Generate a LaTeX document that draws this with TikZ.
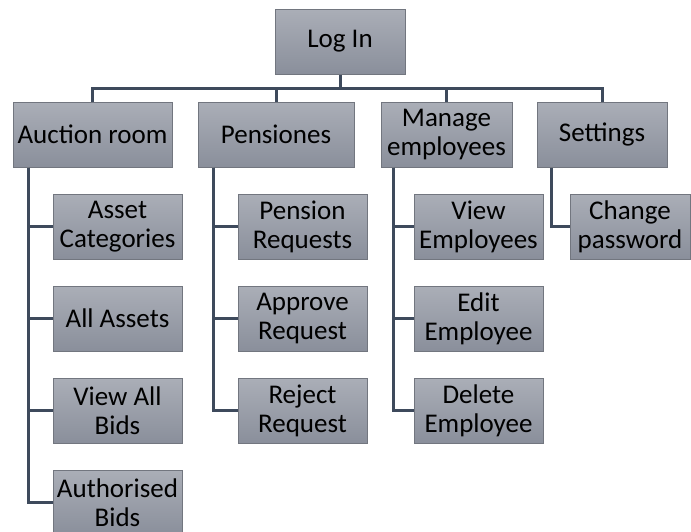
\documentclass[tikz,border=0pt]{standalone}
\usepackage{fontspec}
\setmainfont{Carlito}
\usepackage{xcolor}
\usepackage{tikz}
\usetikzlibrary{positioning}

\definecolor{boxtop}{HTML}{AAAEB7}
\definecolor{boxbot}{HTML}{8A8F9B}
\definecolor{boxline}{HTML}{72767F}
\definecolor{linkcol}{HTML}{3E4A5C}

\tikzset{
  menubox/.style={draw=boxline, line width=1pt, top color=boxtop, bottom color=boxbot,
    inner sep=0pt, align=center, minimum height=65pt,
    font=\fontsize{27}{29}\selectfont},
  link/.style={draw=linkcol, line width=3pt, line join=miter}
}

\begin{document}
\begin{tikzpicture}[x=1pt,y=-1pt]
\useasboundingbox (0,0) rectangle (691,531);

% Top level
\node[menubox, minimum width=130pt] (login) at (340,41.5) {Log In};

% Main menu
\node[menubox, minimum width=159pt] (auction) at (92.5,134.5) {Auction room};
\node[menubox, minimum width=156pt] (pension) at (276,134.5) {Pensiones};
\node[menubox, minimum width=131pt] (manage) at (446.5,134.5) {Manage\\employees};
\node[menubox, minimum width=130pt] (settings) at (602,134.5) {Settings};

% Auction room items
\node[menubox, minimum width=129pt] (assetcat) at (117.5,226.5) {Asset\\Categories};
\node[menubox, minimum width=129pt] (allassets) at (117.5,318.5) {All Assets};
\node[menubox, minimum width=129pt] (viewbids) at (117.5,410.5) {View All\\Bids};
\node[menubox, minimum width=129pt] (authbids) at (117.5,502.5) {Authorised\\Bids};

% Pensiones items
\node[menubox, minimum width=129pt] (penreq) at (302.5,226.5) {Pension\\Requests};
\node[menubox, minimum width=129pt] (approve) at (302.5,318.5) {Approve\\Request};
\node[menubox, minimum width=129pt] (reject) at (302.5,410.5) {Reject\\Request};

% Employee items
\node[menubox, minimum width=129pt] (viewemp) at (478.5,226.5) {View\\Employees};
\node[menubox, minimum width=129pt] (editemp) at (478.5,318.5) {Edit\\Employee};
\node[menubox, minimum width=129pt] (delemp) at (478.5,410.5) {Delete\\Employee};

% Settings item
\node[menubox, minimum width=120pt] (chpass) at (630,226.5) {Change\\password};

% Bus under Log In
\coordinate (bus) at (0,88);
\draw[link] (login.south) -- (login.south |- bus);
\draw[link] (auction.north) -- (auction.north |- bus) -| (settings.north);
\draw[link] (pension.north) -- (pension.north |- bus);
\draw[link] (manage.north) -- (manage.north |- bus);

% Branches
\foreach \c in {assetcat,allassets,viewbids,authbids}
  \draw[link] ([xshift=16pt]auction.south west) |- (\c.west);
\foreach \c in {penreq,approve,reject}
  \draw[link] ([xshift=16pt]pension.south west) |- (\c.west);
\foreach \c in {viewemp,editemp,delemp}
  \draw[link] ([xshift=13pt]manage.south west) |- (\c.west);
\draw[link] ([xshift=15pt]settings.south west) |- (chpass.west);

\end{tikzpicture}
\end{document}
